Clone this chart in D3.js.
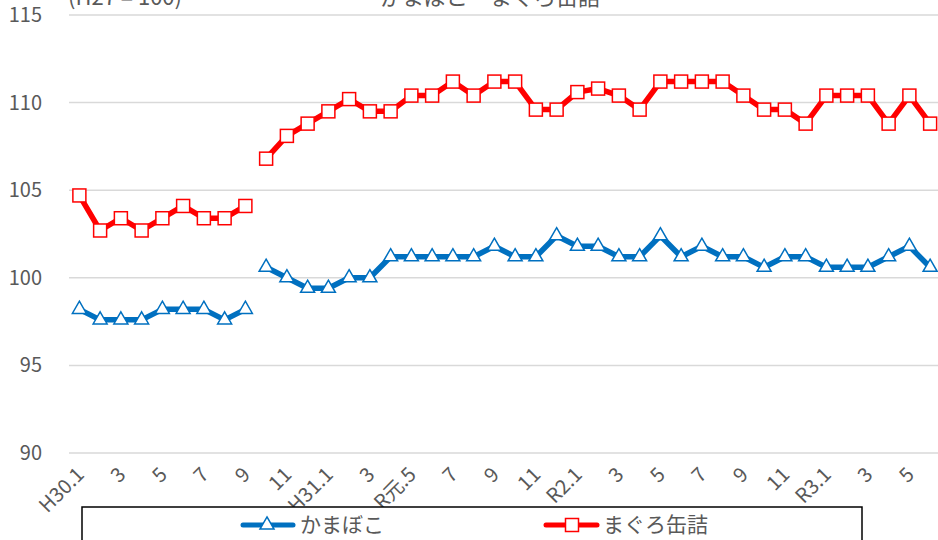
<!DOCTYPE html>
<html><head><meta charset="utf-8">
<script src="https://cdn.jsdelivr.net/npm/d3@7"></script>
<style>
html,body{margin:0;padding:0;background:#fff;overflow:hidden}
text{font-family:"Noto Sans CJK JP","Noto Sans",sans-serif;fill:#595959}
</style></head><body>
<svg id="c" width="938" height="540"></svg>
<script>
const months = ["H30.1","2","3","4","5","6","7","8","9","10","11","12",
  "H31.1","2","3","4","R元.5","6","7","8","9","10","11","12",
  "R2.1","2","3","4","5","6","7","8","9","10","11","12",
  "R3.1","2","3","4","5","6"];
const tickLabels = ["H30.1","3","5","7","9","11","H31.1","3","R元.5","7","9","11","R2.1","3","5","7","9","11","R3.1","3","5"];
const kamaboko = [98.2,97.6,97.6,97.6,98.2,98.2,98.2,97.6,98.2,
  100.6,100.0,99.4,99.4,100.0,100.0,101.2,101.2,101.2,101.2,101.2,101.8,101.2,101.2,102.4,
  101.8,101.8,101.2,101.2,102.4,101.2,101.8,101.2,101.2,100.6,101.2,101.2,100.6,100.6,100.6,101.2,101.8,100.6];
const maguro = [104.7,102.7,103.4,102.7,103.4,104.1,103.4,103.4,104.1,
  106.8,108.1,108.8,109.5,110.2,109.5,109.5,110.4,110.4,111.2,110.4,111.2,111.2,109.6,109.6,
  110.6,110.8,110.4,109.6,111.2,111.2,111.2,111.2,110.4,109.6,109.6,108.8,110.4,110.4,110.4,108.8,110.4,108.8];
const breakAfter = 8; // series restarts after H30.9
const yTicks = [90,95,100,105,110,115];
const seriesNames = ["かまぼこ","まぐろ缶詰"];
const unitLabel = "(H27 = 100)";
const titleText = "かまぼこ・まぐろ缶詰";

const svg = d3.select("#c");
const x = d3.scaleBand().domain(months.map((m,i)=>i)).range([69, 69+42*20.75]);
const y = d3.scaleLinear().domain([90,115]).range([453,15]);
const cx = i => x(i) + x.bandwidth()/2;

// gridlines
svg.append("g").selectAll("line").data(yTicks).join("line")
  .attr("x1",69).attr("x2",940).attr("y1",d=>y(d)).attr("y2",d=>y(d))
  .attr("stroke","#d9d9d9").attr("stroke-width",1.5);
// y labels
svg.append("g").selectAll("text").data(yTicks).join("text")
  .attr("x",42).attr("y",d=>y(d)).attr("dy","0.35em").attr("text-anchor","end")
  .attr("font-size",20).text(d=>d);

// x labels
const tickIdx = months.map((m,i)=>i).filter(i=>i%2===0);
svg.append("g").selectAll("text").data(tickIdx).join("text")
  .attr("transform",(d)=>`translate(${cx(d)+1},${471}) rotate(-45)`)
  .attr("text-anchor","end").attr("dy","0.35em").attr("font-size",20)
  .text((d,k)=>tickLabels[k]);

// top texts (cropped in the reference)
svg.append("text").attr("x",68).attr("y",5).attr("font-size",22).text(unitLabel);
svg.append("text").attr("x",490).attr("y",5).attr("text-anchor","middle").attr("font-size",22).text(titleText);

const line = d3.line().x(d=>cx(d.i)).y(d=>y(d.v));
function segs(arr){
  const pts = arr.map((v,i)=>({i,v}));
  return [pts.slice(0,breakAfter+1), pts.slice(breakAfter+1)];
}
const blue = "#0070C0", red = "#FF0000";
const tri = d3.symbol().type(d3.symbolTriangle).size(85);

// blue series
const gB = svg.append("g");
gB.selectAll("path.l").data(segs(kamaboko)).join("path").attr("class","l")
  .attr("d",line).attr("fill","none").attr("stroke",blue).attr("stroke-width",5.5).attr("stroke-linejoin","round");
gB.selectAll("path.m").data(kamaboko.map((v,i)=>({i,v}))).join("path").attr("class","m")
  .attr("d",tri).attr("transform",d=>`translate(${cx(d.i)},${y(d.v)})`)
  .attr("fill","#fff").attr("stroke",blue).attr("stroke-width",1.5);

// red series
const gR = svg.append("g");
gR.selectAll("path.l").data(segs(maguro)).join("path").attr("class","l")
  .attr("d",line).attr("fill","none").attr("stroke",red).attr("stroke-width",5.5).attr("stroke-linejoin","round");
gR.selectAll("rect").data(maguro.map((v,i)=>({i,v}))).join("rect")
  .attr("x",d=>cx(d.i)-6.5).attr("y",d=>y(d.v)-6.5).attr("width",13).attr("height",13)
  .attr("fill","#fff").attr("stroke",red).attr("stroke-width",1.5);

// legend
const lg = svg.append("g");
lg.append("rect").attr("x",82).attr("y",507).attr("width",780).attr("height",50)
  .attr("fill","#fff").attr("stroke","#000").attr("stroke-width",1.5);
const ly = 525;
lg.append("line").attr("x1",243).attr("x2",293).attr("y1",ly).attr("y2",ly)
  .attr("stroke",blue).attr("stroke-width",5).attr("stroke-linecap","round");
lg.append("path").attr("d",tri).attr("transform",`translate(267,${ly})`)
  .attr("fill","#fff").attr("stroke",blue).attr("stroke-width",1.5);
lg.append("text").attr("x",300).attr("y",ly).attr("dy","0.35em").attr("font-size",21).text(seriesNames[0]);
lg.append("line").attr("x1",546).attr("x2",597).attr("y1",ly).attr("y2",ly)
  .attr("stroke",red).attr("stroke-width",5).attr("stroke-linecap","round");
lg.append("rect").attr("x",572-6.5).attr("y",ly-6.5).attr("width",13).attr("height",13)
  .attr("fill","#fff").attr("stroke",red).attr("stroke-width",1.5);
lg.append("text").attr("x",603).attr("y",ly).attr("dy","0.35em").attr("font-size",21).text(seriesNames[1]);
</script></body></html>
